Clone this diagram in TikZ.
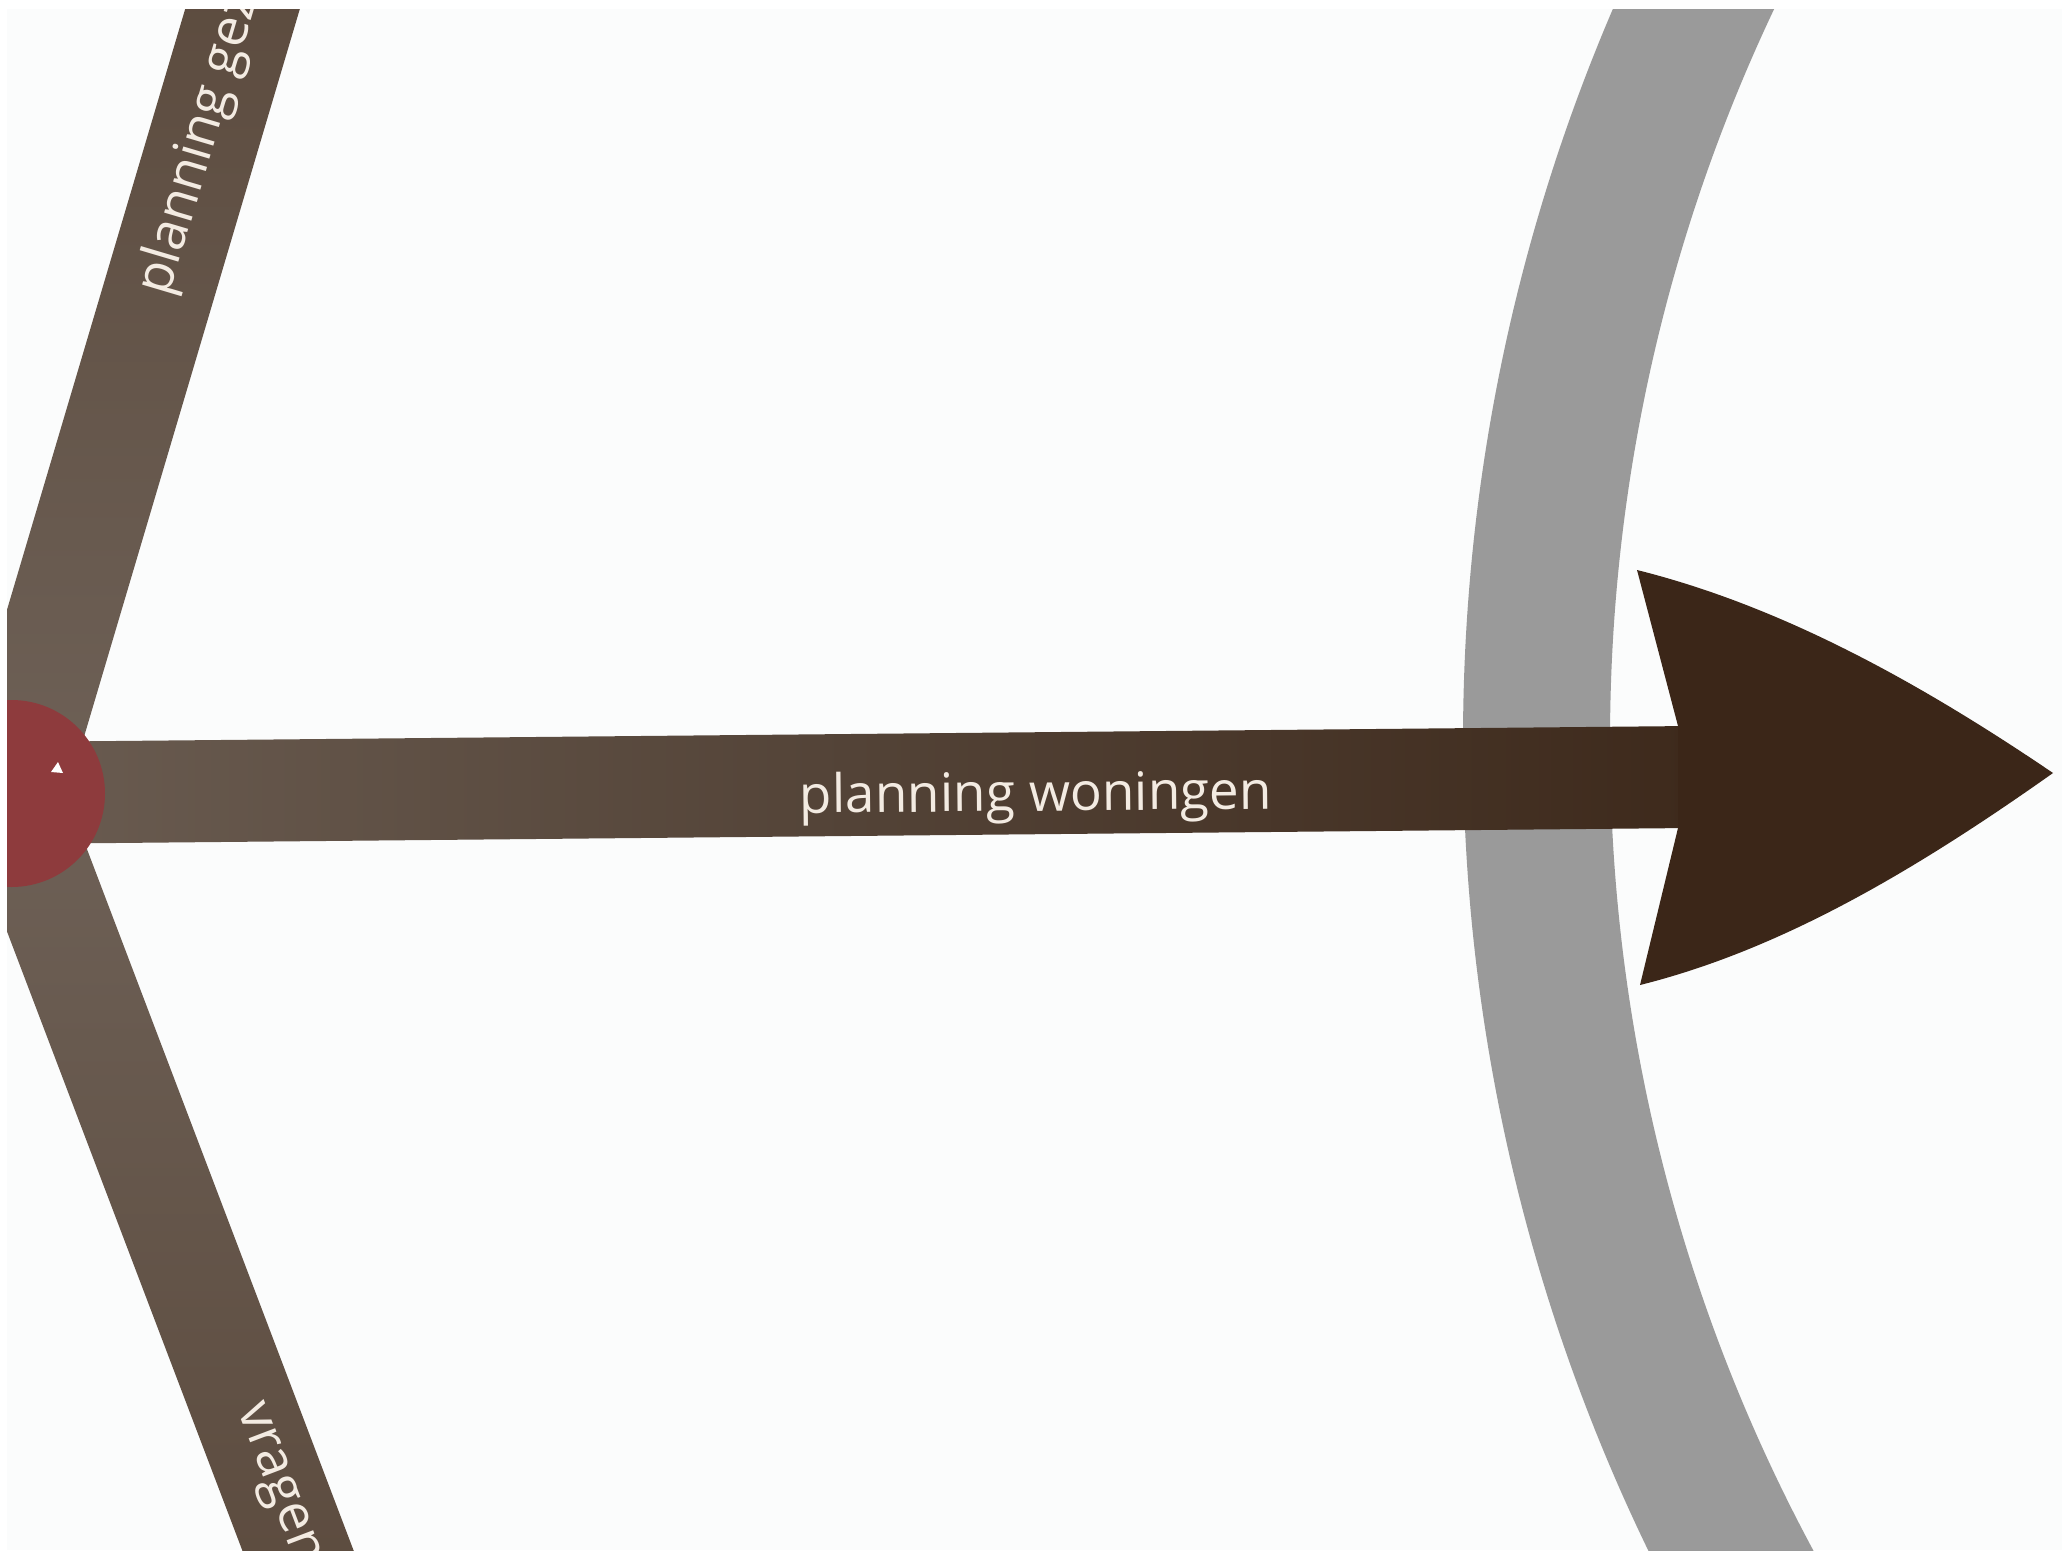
\documentclass[tikz,border=0pt]{standalone}
\usepackage{fontspec}
\setmainfont{Open Sans}
\usetikzlibrary{calc}
\definecolor{bgc}{HTML}{FBFCFC}
\definecolor{barlight}{HTML}{6E6157}
\definecolor{bardark}{HTML}{5B4A3D}
\definecolor{hbarleft}{HTML}{6A5C51}
\definecolor{hbarmid}{HTML}{534337}
\definecolor{hbarright}{HTML}{3E2A1C}
\definecolor{headc}{HTML}{3B2618}
\definecolor{arcgray}{HTML}{9A9A9A}
\definecolor{hubred}{HTML}{8E3B3D}
\definecolor{labelc}{HTML}{F3EBE2}
\tikzset{
  lbl/.style={text=labelc, inner sep=0pt, font=\fontsize{53}{63}\selectfont},
}
\begin{document}
\begin{tikzpicture}[x=1pt,y=-1pt]
\useasboundingbox (0,0) rectangle (2067,1558);
\fill[white] (0,0) rectangle (2067,1558);
\fill[bgc] (7,9) rectangle (2062,1550);
\begin{scope}
\clip (7,9) rectangle (2062,1550);
% grey arc (ring segment)
\coordinate (ringc) at (3320,741);
\draw[arcgray, line width=147pt] (ringc) circle[radius=1783.5];
% hub centre
\coordinate (C) at (10,793);
% upper bar
\shade[top color=bardark, bottom color=barlight] (62.7,808.6) -- (318.6,-54.3) -- (213.2,-85.5) -- (-42.7,777.4) -- cycle;
% lower bar
\shade[top color=barlight, bottom color=bardark] (58.6,774.5) -- (378.4,1615.7) -- (281.2,1652.7) -- (-38.6,811.5) -- cycle;
% horizontal bar
\shade[left color=hbarleft, right color=hbarright, middle color=hbarmid] (10,742) -- (1690,726) -- (1690,828) -- (10,844) -- cycle;
% hub
\node[circle, fill=hubred, minimum size=187pt, inner sep=0pt] (hub) at (11.5,793.5) {};
\fill[white] (51,772) -- (58,762) -- (63,773) -- cycle;
% arrow head
\coordinate (tip) at (2053,773);
\fill[headc] (1678,726) -- (1637,570) .. controls (1777,605) and (1913,678) .. (tip)
  .. controls (1913,872) and (1780,950) .. (1640,985) -- (1678,828) -- cycle;
% labels
\node[lbl, anchor=base, rotate=0.54] (main) at (1036,811) {planning woningen};
\node[lbl, anchor=mid east, rotate=73.48] (up) at (255,-2.5) {planning gez};
\node[lbl, anchor=mid east, rotate=-69.19] (low) at (300,1566) {vragen};
\end{scope}
\end{tikzpicture}
\end{document}
